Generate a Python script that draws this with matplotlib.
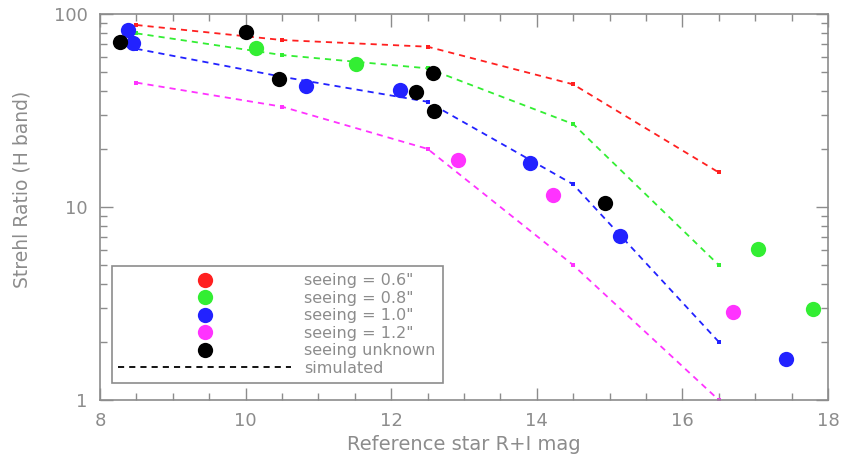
import matplotlib
matplotlib.use("Agg")
import matplotlib.pyplot as plt
from matplotlib.ticker import FixedLocator, NullFormatter, MultipleLocator, LogLocator

# Simulated curves (x = reference star R+I mag, y = Strehl ratio %)
sim_x = [8.5, 10.5, 12.5, 14.5, 16.5]
sim_06 = [87.7, 73.3, 67.7, 43.2, 15.1]
sim_08 = [79.4, 61.3, 52.3, 26.9, 5.0]
sim_10 = [66.0, 47.3, 35.1, 13.1, 2.0]
sim_12 = [44.1, 33.1, 20.0, 5.0, 1.0]

# Measured points
obs06_x, obs06_y = [], []
obs08_x = [10.14, 11.52, 17.04, 17.79]
obs08_y = [66.9, 54.9, 6.06, 2.96]
obs10_x = [8.39, 8.46, 10.83, 12.12, 13.91, 15.14, 17.42]
obs10_y = [82.6, 71.0, 42.4, 40.4, 17.0, 7.08, 1.64]
obs12_x = [12.92, 14.22, 16.70]
obs12_y = [17.5, 11.6, 2.85]
obsunk_x = [8.28, 10.01, 10.46, 12.34, 12.58, 12.59, 14.93]
obsunk_y = [71.3, 80.4, 45.9, 39.6, 49.6, 31.4, 10.5]

labels = ['seeing = 0.6"', 'seeing = 0.8"', 'seeing = 1.0"', 'seeing = 1.2"',
          'seeing unknown', 'simulated']

RED, GREEN, BLUE, MAG, BLACK = '#ff2020', '#33ee33', '#2222ff', '#ff33ff', '#000000'
GRAY = '#8c8c8c'

plt.rcParams['font.family'] = ['DejaVu Sans']
fig = plt.figure(figsize=(8.42, 4.55), dpi=100)
ax = fig.add_axes([100/842, 1-400/455, 728/842, 386/455])

dash = (0, (3.4, 2.8))
for ys, c in [(sim_06, RED), (sim_08, GREEN), (sim_10, BLUE), (sim_12, MAG)]:
    ax.plot(sim_x, ys, color=c, linestyle=dash, linewidth=1.3,
            marker='s', markersize=2.8, markeredgewidth=0, zorder=2)

ms = 11
h = []
for xs, ys, c, lab in [(obs06_x, obs06_y, RED, labels[0]),
                       (obs08_x, obs08_y, GREEN, labels[1]),
                       (obs10_x, obs10_y, BLUE, labels[2]),
                       (obs12_x, obs12_y, MAG, labels[3]),
                       (obsunk_x, obsunk_y, BLACK, labels[4])]:
    ln, = ax.plot(xs, ys, linestyle='none', marker='o', markersize=ms,
                  color=c, markeredgewidth=0, zorder=3, label=lab)
    h.append(ln)
sim_handle, = ax.plot([], [], color='black', linestyle=dash, linewidth=1.3,
                      label=labels[5])
h.append(sim_handle)

ax.set_yscale('log')
ax.set_xlim(8, 18)
ax.set_ylim(1, 100)
ax.xaxis.set_major_locator(MultipleLocator(2))
ax.xaxis.set_minor_locator(MultipleLocator(0.5))
ax.yaxis.set_major_locator(FixedLocator([1, 10, 100]))
ax.yaxis.set_major_formatter(matplotlib.ticker.FuncFormatter(lambda v, p: '%d' % v))
ax.yaxis.set_minor_locator(LogLocator(base=10, subs=range(2, 10)))
ax.yaxis.set_minor_formatter(NullFormatter())

ax.tick_params(which='both', direction='in', top=True, right=True,
               color=GRAY, labelcolor=GRAY, labelsize=13, pad=9)
ax.tick_params(which='major', length=9, width=1)
ax.tick_params(which='minor', length=5, width=1)
for s in ax.spines.values():
    s.set_color(GRAY)
    s.set_linewidth(1.2)

ax.set_xlabel('Reference star R+I mag', color=GRAY, fontsize=14, labelpad=3)
ax.set_ylabel('Strehl Ratio (H band)', color=GRAY, fontsize=13.5)
ax.yaxis.set_label_coords(-68/728, 0.545)

leg = ax.legend(handles=h, loc='lower left', bbox_to_anchor=(0.016, 0.045),
                borderaxespad=0, fontsize=11.5, handlelength=10.8,
                handletextpad=0.85, labelspacing=0.16, borderpad=0.42,
                fancybox=False, framealpha=1, edgecolor=GRAY, markerscale=1.0)
leg.get_frame().set_linewidth(1.2)
for t in leg.get_texts():
    t.set_color(GRAY)

fig.savefig('out.png', dpi=100)
